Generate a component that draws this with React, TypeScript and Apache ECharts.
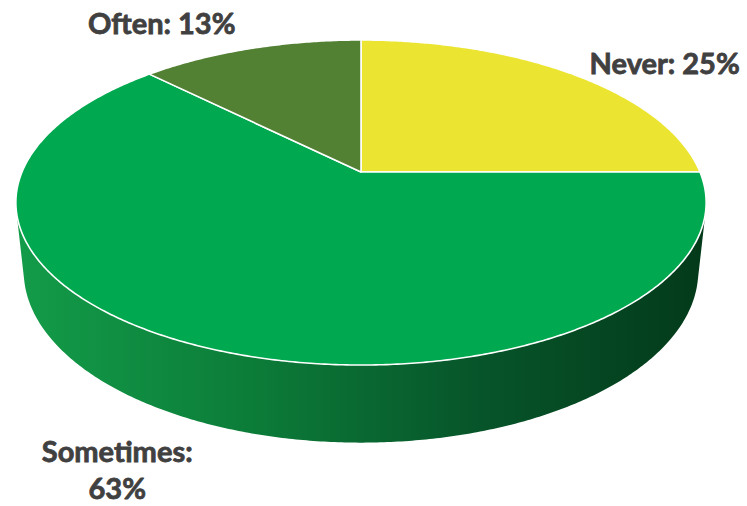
import React, { useEffect, useRef } from "react";
import * as echarts from "echarts";

// ---- data ----
const categories = ["Never", "Sometimes", "Often"];
const shares = [25, 62.5, 12.5];
const topColors = ["#EBE532", "#00A94F", "#538134"];
const sideStops = [
  ["#C9C424", "#8C8716"],
  ["#139C49", "#0C7D39", "#07552A", "#033A1A"],
  ["#456D2A", "#2A4419"],
];

// ---- geometry (perspective-projected cylinder) ----
const CX = 361;
const CY = 172;
const R = 339; // horizontal radius scale
const A = 156.8; // vertical radius scale
const P = 0.1877; // perspective strength
const T = 0.23; // thickness (in radius units)

const SIN_PHI = A / R;
const COS_PHI = Math.sqrt(1 - SIN_PHI * SIN_PHI);
const L = COS_PHI / P;
const HB = R * T * COS_PHI; // bottom drop
const KB = (T * SIN_PHI) / L; // bottom shrink
const VIS = -P / (COS_PHI * COS_PHI); // wall visible when cos(theta) < VIS

// label layout: offset from anchor on rim, alignment
const labelLayout = [
  { dx: 17, dy: -12, align: "left", useBottom: false },
  { dx: -91, dy: 45, align: "center", useBottom: true },
  { dx: -15, dy: -26, align: "right", useBottom: false },
];

function proj(theta: number, bottom: boolean): number[] {
  const u = Math.sin(theta);
  const v = Math.cos(theta);
  const w = 1 + P * v + (bottom ? KB : 0);
  return [CX + (R * u) / w, CY + (-A * v + (bottom ? HB : 0)) / w];
}

function arcPts(t0: number, t1: number, bottom: boolean): number[][] {
  const n = Math.max(2, Math.ceil(Math.abs(t1 - t0) / (Math.PI / 360)));
  const pts: number[][] = [];
  for (let i = 0; i <= n; i++) {
    pts.push(proj(t0 + ((t1 - t0) * i) / n, bottom));
  }
  return pts;
}

export default function App() {
  const ref = useRef<HTMLDivElement>(null);
  useEffect(() => {
    if (!ref.current) return;
    const chart = echarts.init(ref.current, null, { renderer: "svg" });
    const total = shares.reduce((a, b) => a + b, 0);
    const starts: number[] = [];
    let acc = 0;
    shares.forEach((v) => {
      starts.push(acc);
      acc += v;
    });
    const visLo = Math.acos(VIS);
    const visHi = 2 * Math.PI - visLo;
    const leftX = proj(visHi, false)[0];
    const rightX = proj(visLo, false)[0];

    const renderItem = (params: any, api: any) => {
      const i = params.dataIndex;
      const val = api.value(0);
      const t0 = (starts[i] / total) * 2 * Math.PI;
      const t1 = t0 + (val / total) * 2 * Math.PI;
      const children: any[] = [];

      // outer wall (front-facing part only)
      const a = Math.max(t0, visLo);
      const b = Math.min(t1, visHi);
      if (b > a) {
        const top = arcPts(a, b, false);
        const bot = arcPts(a, b, true).reverse();
        const stops = sideStops[i];
        children.push({
          type: "polygon",
          z2: 1,
          shape: { points: top.concat(bot) },
          style: {
            fill: new echarts.graphic.LinearGradient(
              leftX, 0, rightX, 0,
              stops.map((c, k) => ({ offset: k / (stops.length - 1), color: c })),
              true
            ),
            stroke: null,
          },
        });
      }

      // top face
      const facePts = [[CX, CY]].concat(arcPts(t0, t1, false));
      children.push({
        type: "polygon",
        z2: 5,
        shape: { points: facePts },
        style: {
          fill: topColors[i],
          stroke: "#FFFFFF",
          lineWidth: 1.6,
          lineJoin: "round",
        },
      });

      // label
      const lay = labelLayout[i];
      const mid = (t0 + t1) / 2;
      const anchor = proj(mid, lay.useBottom);
      const pct = Math.round((val / total) * 100);
      const txt =
        categories[i] + ":" + (categories[i].length > 6 ? "\n" : " ") + pct + "%";
      children.push({
        type: "text",
        z2: 10,
        x: anchor[0] + lay.dx,
        y: anchor[1] + lay.dy,
        style: {
          text: txt,
          fill: "#404040",
          stroke: "#404040",
          lineWidth: 0.8,
          fontFamily: "Lato",
          fontWeight: "bold",
          fontSize: 29,
          lineHeight: 37,
          align: lay.align,
          verticalAlign: "middle",
        },
      });

      return { type: "group", children };
    };

    chart.setOption({
      animation: false,
      backgroundColor: "#FFFFFF",
      series: [
        {
          type: "custom",
          coordinateSystem: "none",
          renderItem,
          data: shares.map((v) => [v]),
        },
      ],
    });
    return () => chart.dispose();
  }, []);
  return (
    <div
      ref={ref}
      style={{ position: "fixed", left: 0, top: 0, width: 747, height: 506 }}
    />
  );
}
